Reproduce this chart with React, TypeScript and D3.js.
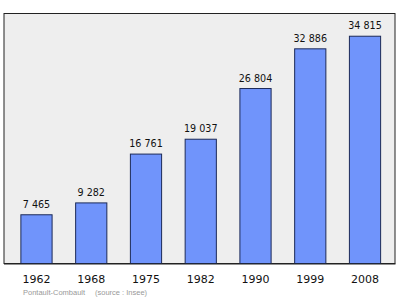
import React from "react";
import * as d3 from "d3";

const years = ["1962", "1968", "1975", "1982", "1990", "1999", "2008"];
const population = [7465, 9282, 16761, 19037, 26804, 32886, 34815];
const footerTown = "Pontault-Combault";
const footerSource = "(source : Insee)";

const W = 400;
const H = 299;
const plot = { left: 4, top: 13.5, right: 395, bottom: 263.5 };

const fmt = (v: number) => {
  const s = String(v);
  return s.length > 3 ? s.slice(0, s.length - 3) + " " + s.slice(-3) : s;
};

export default function App() {
  const x = d3
    .scaleBand<string>()
    .domain(years)
    .range([5, 396.5])
    .paddingInner(0.43)
    .paddingOuter(0.29);
  const y = d3
    .scaleLinear()
    .domain([0, (d3.max(population) as number) * 1.1])
    .range([plot.bottom, plot.top]);

  return (
    <svg
      width={W}
      height={H}
      style={{ position: "absolute", left: 0, top: 0, display: "block" }}
    >
      <rect x={0} y={0} width={W} height={H} fill="#ffffff" />
      <rect
        x={plot.left}
        y={plot.top}
        width={plot.right - plot.left}
        height={plot.bottom - plot.top}
        fill="#eeeeee"
        stroke="#222222"
        strokeWidth={1}
      />
      {years.map((yr, i) => {
        const v = population[i];
        const bx = x(yr) as number;
        const bw = x.bandwidth();
        return (
          <g key={yr}>
            <rect
              x={bx}
              y={y(v)}
              width={bw}
              height={plot.bottom - y(v)}
              fill="#7094fb"
              stroke="#1c2a58"
              strokeWidth={1}
            />
            <text
              x={bx + bw / 2}
              y={y(v) - 7}
              textAnchor="middle"
              fontFamily="DejaVu Sans"
              fontSize={9.6}
              fill="#111111"
            >
              {fmt(v)}
            </text>
            <text
              x={bx + bw / 2}
              y={282.5}
              textAnchor="middle"
              fontFamily="DejaVu Sans"
              fontSize={11}
              fill="#111111"
            >
              {yr}
            </text>
          </g>
        );
      })}
      <line
        x1={plot.left}
        x2={plot.right + 0.5}
        y1={plot.bottom + 0.5}
        y2={plot.bottom + 0.5}
        stroke="#222222"
        strokeWidth={1}
      />
      <text
        x={23}
        y={295}
        fontFamily="Liberation Sans"
        fontSize={7.5}
        fill="#999999"
      >
        {footerTown}
      </text>
      <text
        x={95}
        y={295}
        fontFamily="Liberation Sans"
        fontSize={7.5}
        fill="#999999"
      >
        {footerSource}
      </text>
    </svg>
  );
}
